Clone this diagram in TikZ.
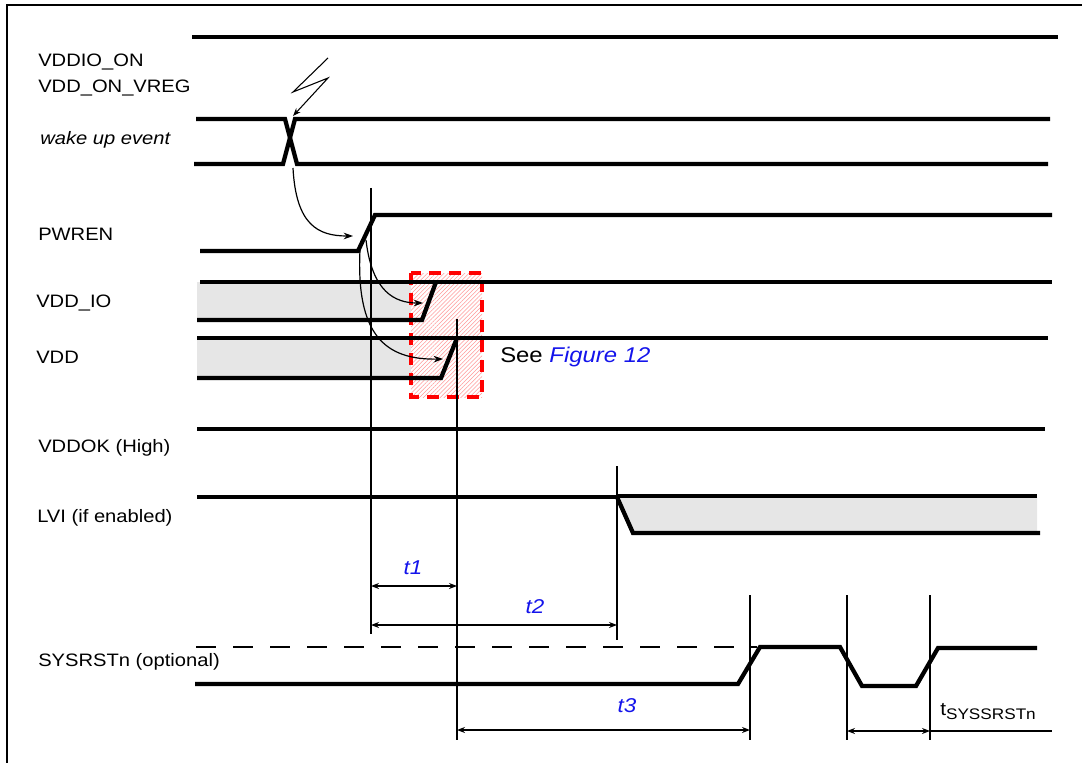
\documentclass[tikz,border=0pt]{standalone}
\usepackage{fontspec}
\setmainfont{Liberation Sans}
\newfontfamily\labfont[FakeStretch=1.12]{Liberation Sans}
\usetikzlibrary{arrows.meta,patterns.meta}
\definecolor{linkblue}{RGB}{20,20,235}
\definecolor{shadegray}{RGB}{230,230,230}
\begin{document}
\begin{tikzpicture}[x=0.75pt,y=-0.75pt,
  sig/.style={line width=3.2pt, line join=miter},
  thinsig/.style={line width=2.4pt},
  vline/.style={line width=1.4pt},
  grayarea/.style={fill=shadegray},
  carr/.style={line width=0.9pt, -{Stealth[length=7pt,width=5pt]}},
  dbl/.style={line width=1.4pt, {Stealth[length=6pt,width=4.5pt]}-{Stealth[length=6pt,width=4.5pt]}},
  lab/.style={anchor=west, inner sep=0pt, font=\labfont\fontsize{13.5}{15}\selectfont},
  tlab/.style={inner sep=0pt, text=linkblue, font=\labfont\fontsize{15}{17}\selectfont\itshape},
  hatch/.style={pattern={Lines[angle=45,distance=2.2pt,line width=0.4pt]}, pattern color=red!40}
]
\useasboundingbox (0,0) rectangle (1082,763);
% frame
\draw[line width=1.8pt] (7,763) -- (7,5) -- (1082,5);

% labels
\node[lab] (lvddio) at (38,62) {VDDIO\_ON};
\node[lab] (lvddon) at (38,88) {VDD\_ON\_VREG};
\node[lab, font=\labfont\fontsize{13.5}{15}\selectfont\itshape] (lwake) at (40,140) {wake up event};
\node[lab] (lpwren) at (38,234) {PWREN};
\node[lab] (lvddio2) at (36,303) {VDD\_IO};
\node[lab] (lvdd) at (36,357) {VDD};
\node[lab] (lvddok) at (38,448) {VDDOK (High)};
\node[lab] (llvi) at (37,518) {LVI (if enabled)};
\node[lab] (lsys) at (38,662) {SYSRSTn (optional)};

% VDDIO_ON
\draw[thinsig] (192,37) -- (287,37);
\draw[sig] (287,37) -- (1058,37);

% wake up event
\draw[sig] (196,119) -- (285,119) -- (297,164) -- (1048,164);
\draw[sig] (194,164) -- (283,164) -- (295,119) -- (1050,119);
\coordinate (bolt) at (293,116);
\draw[line width=0.8pt, -{Stealth[length=6pt,width=4.5pt]}] (328,58) -- (293,92) -- (328,78) -- (bolt);
\coordinate (wk) at (293,168);
\coordinate (pw) at (353,236);
\draw[carr] (wk) .. controls (296,225) and (318,236) .. (pw);

% PWREN
\draw[sig] (200,251) -- (358,251) -- (375,215) -- (1052,215);

% shaded areas
\fill[grayarea] (197,282) -- (436,282) -- (422,320) -- (197,320) -- cycle;
\fill[grayarea] (197,338) -- (457,338) -- (441,378) -- (197,378) -- cycle;

% hatched region
\fill[white] (411,273) rectangle (482,397);
\fill[hatch] (411,273) rectangle (482,397);
\draw[red, line width=2.6pt, dash pattern=on 9pt off 6pt] (411,273) rectangle (482,397);

% VDD_IO and VDD
\draw[sig] (200,282) -- (1052,282);
\draw[sig] (197,320) -- (422,320) -- (436,282);
\draw[sig] (197,338) -- (1048,338);
\draw[sig] (197,378) -- (441,378) -- (457,338);

% vertical markers
\draw[vline] (371,188) -- (371,634);
\draw[vline] (457,319) -- (457,740);

% curved arrows from PWREN
\coordinate (pa) at (366,240);
\coordinate (pb) at (360,250);
\coordinate (ia) at (423,303);
\coordinate (ib) at (443,359);
\draw[carr] (pa) .. controls (372,292) and (395,303) .. (ia);
\draw[carr] (pb) .. controls (356,335) and (385,360) .. (ib);

\node[anchor=west, inner sep=0pt, font=\labfont\fontsize{16}{18}\selectfont] (see) at (500,357) {See \textcolor{linkblue}{\itshape Figure 12}};

% VDDOK
\draw[thinsig] (197,429) -- (290,429);
\draw[sig] (290,429) -- (1045,429);

% LVI
\fill[grayarea] (617,497) -- (1037,497) -- (1037,533) -- (633,533) -- cycle;
\draw[thinsig] (197,497) -- (617,497);
\draw[sig] (617,496) -- (1037,496);
\draw[sig] (617,497) -- (633,533) -- (1040,533);
\draw[vline] (617,466) -- (617,640);

% t1, t2
\coordinate (t1a) at (371,586); \coordinate (t1b) at (457,586);
\draw[dbl] (t1a) -- (t1b);
\node[tlab] (t1) at (413,568) {t1};
\coordinate (t2a) at (371,625); \coordinate (t2b) at (617,625);
\draw[dbl] (t2a) -- (t2b);
\node[tlab] (t2) at (535,607) {t2};

% SYSRSTn
\draw[line width=1.5pt, dash pattern=on 15pt off 12.75pt] (196,647) -- (757,647);
\draw[sig] (195,684) -- (738,684) -- (760,647) -- (840,647) -- (862,686) -- (916,686) -- (938,648) -- (1037,648);
\draw[vline] (750,595) -- (750,740);
\draw[vline] (847,595) -- (847,740);
\draw[vline] (930,595) -- (930,740);

% t3
\coordinate (t3a) at (457,730); \coordinate (t3b) at (750,730);
\draw[dbl] (t3a) -- (t3b);
\node[tlab] (t3) at (627,706) {t3};

% tSYSSRSTn
\coordinate (tsa) at (847,731); \coordinate (tsb) at (930,731); \coordinate (tse) at (1052,731);
\draw[dbl] (tsa) -- (tsb);
\draw[vline] (tsb) -- (tse);
\node[anchor=west, inner sep=0pt] (tsys) at (940,712) {{\labfont\fontsize{14}{16}\selectfont t}\raisebox{-3pt}{\labfont\fontsize{11.5}{13}\selectfont SYSSRSTn}};
\end{tikzpicture}
\end{document}
